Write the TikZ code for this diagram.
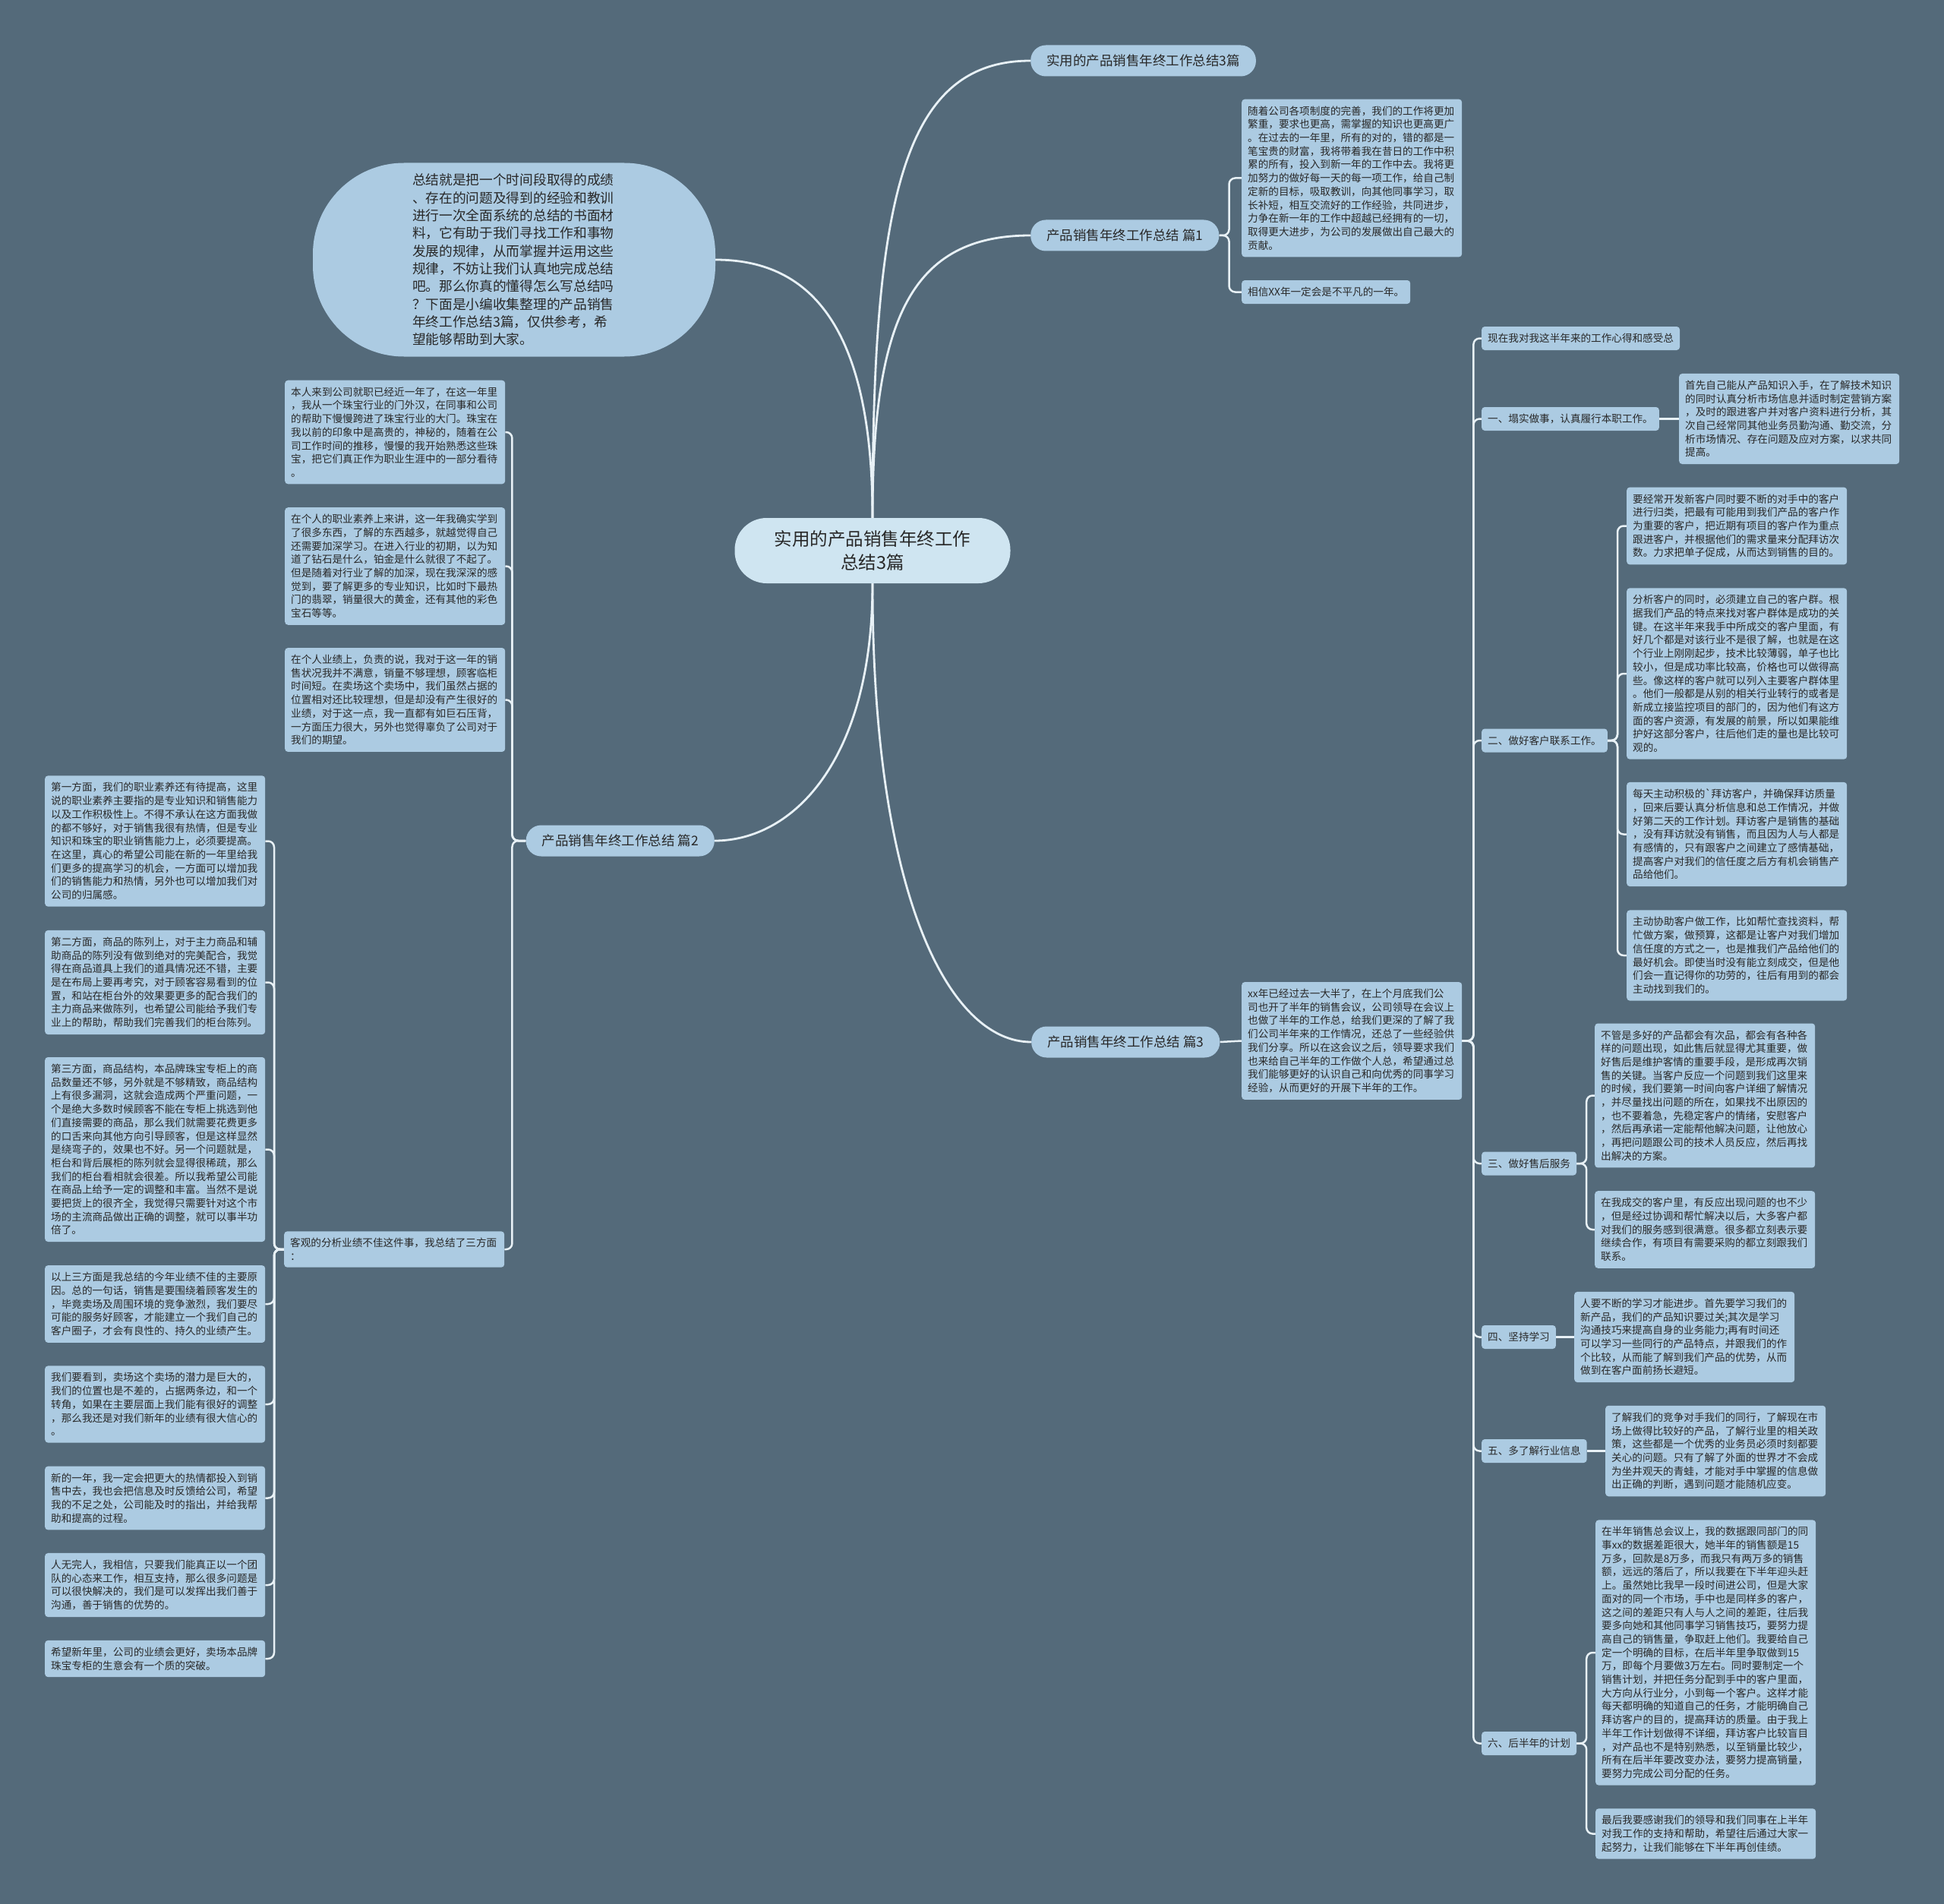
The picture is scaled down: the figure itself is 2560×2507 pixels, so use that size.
\documentclass[tikz,border=0pt]{standalone}
\usepackage{fontspec}
\setmainfont{Noto Sans CJK SC}
\definecolor{bgSlate}{RGB}{84,106,122}
\definecolor{leafBlue}{RGB}{172,203,226}
\definecolor{rootBlue}{RGB}{207,229,241}
\definecolor{linkWhite}{RGB}{232,241,246}
\definecolor{inkGray}{RGB}{40,40,40}
\pgfdeclarelayer{bg}
\pgfsetlayers{bg,main}
\tikzset{
  leaf/.style={fill=leafBlue, rounded corners=4pt, text=inkGray, align=left, text width=274pt,
               inner xsep=8pt, inner ysep=9pt, font=\fontsize{13.6}{17.7}\selectfont, anchor=west},
  topic/.style={fill=leafBlue, rounded corners=4pt, text=inkGray, inner xsep=8pt, inner ysep=0pt,
               minimum height=31pt, font=\fontsize{13.6}{17.7}\selectfont, anchor=west},
  branch/.style={fill=leafBlue, rounded corners=20pt, text=inkGray, inner xsep=21pt, inner ysep=0pt,
               minimum height=41pt, font=\fontsize{17.5}{21}\selectfont},
  rootnode/.style={fill=rootBlue, rounded corners=42pt, text=inkGray, align=center,
               minimum width=363pt, minimum height=86pt, font=\fontsize{23.5}{31.7}\selectfont},
  intronode/.style={fill=leafBlue, rounded corners=120pt, text=inkGray, align=left, text width=268pt,
               minimum width=530pt, minimum height=255pt, font=\fontsize{17.7}{23.3}\selectfont},
  link/.style={draw=linkWhite, line width=2.5pt, rounded corners=8pt},
  curve/.style={draw=linkWhite, line width=2.8pt}
}
\begin{document}
\begin{tikzpicture}[x=1pt,y=-1pt]
\begin{pgfonlayer}{bg}
\fill[bgSlate] (0,0) rectangle (2560,2507);
\end{pgfonlayer}
\useasboundingbox (0,0) rectangle (2560,2507);

% centre and main branches
\node[rootnode] (root) at (1149,725) {实用的产品销售年终工作\\总结3篇};
\node[intronode] (intro) at (677,342) {总结就是把一个时间段取得的成绩\\、存在的问题及得到的经验和教训\\进行一次全面系统的总结的书面材\\料，它有助于我们寻找工作和事物\\发展的规律，从而掌握并运用这些\\规律，不妨让我们认真地完成总结\\吧。那么你真的懂得怎么写总结吗\\？下面是小编收集整理的产品销售\\年终工作总结3篇，仅供参考，希\\望能够帮助到大家。};
\node[branch, anchor=west] (p0) at (1357,80) {实用的产品销售年终工作总结3篇};
\node[branch, anchor=west] (p1) at (1357,310) {产品销售年终工作总结 篇1};
\node[branch, anchor=east] (p2) at (941,1107) {产品销售年终工作总结 篇2};
\node[branch, anchor=west] (p3) at (1358,1372) {产品销售年终工作总结 篇3};

% 篇1
\node[leaf] (p1a) at (1635,234.5) {随着公司各项制度的完善，我们的工作将更加\\繁重，要求也更高，需掌握的知识也更高更广\\。在过去的一年里，所有的对的，错的都是一\\笔宝贵的财富，我将带着我在昔日的工作中积\\累的所有，投入到新一年的工作中去。我将更\\加努力的做好每一天的每一项工作，给自己制\\定新的目标，吸取教训，向其他同事学习，取\\长补短，相互交流好的工作经验，共同进步，\\力争在新一年的工作中超越已经拥有的一切，\\取得更大进步，为公司的发展做出自己最大的\\贡献。};
\node[topic] (p1b) at (1635,384.5) {相信XX年一定会是不平凡的一年。};

% 篇2
\node[leaf] (p2a) at (375,569) {本人来到公司就职已经近一年了，在这一年里\\，我从一个珠宝行业的门外汉，在同事和公司\\的帮助下慢慢跨进了珠宝行业的大门。珠宝在\\我以前的印象中是高贵的，神秘的，随着在公\\司工作时间的推移，慢慢的我开始熟悉这些珠\\宝，把它们真正作为职业生涯中的一部分看待\\。};
\node[leaf] (p2b) at (375,745.5) {在个人的职业素养上来讲，这一年我确实学到\\了很多东西，了解的东西越多，就越觉得自己\\还需要加深学习。在进入行业的初期，以为知\\道了钻石是什么，铂金是什么就很了不起了。\\但是随着对行业了解的加深，现在我深深的感\\觉到，要了解更多的专业知识，比如时下最热\\门的翡翠，销量很大的黄金，还有其他的彩色\\宝石等等。};
\node[leaf] (p2c) at (375,921.5) {在个人业绩上，负责的说，我对于这一年的销\\售状况我并不满意，销量不够理想，顾客临柜\\时间短。在卖场这个卖场中，我们虽然占据的\\位置相对还比较理想，但是却没有产生很好的\\业绩，对于这一点，我一直都有如巨石压背，\\一方面压力很大，另外也觉得辜负了公司对于\\我们的期望。};
\node[leaf] (p2d) at (374,1645) {客观的分析业绩不佳这件事，我总结了三方面\\：};
\node[leaf] (p2e) at (59,1107.5) {第一方面，我们的职业素养还有待提高，这里\\说的职业素养主要指的是专业知识和销售能力\\以及工作积极性上。不得不承认在这方面我做\\的都不够好，对于销售我很有热情，但是专业\\知识和珠宝的职业销售能力上，必须要提高。\\在这里，真心的希望公司能在新的一年里给我\\们更多的提高学习的机会，一方面可以增加我\\们的销售能力和热情，另外也可以增加我们对\\公司的归属感。};
\node[leaf] (p2f) at (59,1293.5) {第二方面，商品的陈列上，对于主力商品和辅\\助商品的陈列没有做到绝对的完美配合，我觉\\得在商品道具上我们的道具情况还不错，主要\\是在布局上要再考究，对于顾客容易看到的位\\置，和站在柜台外的效果要更多的配合我们的\\主力商品来做陈列，也希望公司能给予我们专\\业上的帮助，帮助我们完善我们的柜台陈列。};
\node[leaf] (p2g) at (59,1513.5) {第三方面，商品结构，本品牌珠宝专柜上的商\\品数量还不够，另外就是不够精致，商品结构\\上有很多漏洞，这就会造成两个严重问题，一\\个是绝大多数时候顾客不能在专柜上挑选到他\\们直接需要的商品，那么我们就需要花费更多\\的口舌来向其他方向引导顾客，但是这样显然\\是绕弯子的，效果也不好。另一个问题就是，\\柜台和背后展柜的陈列就会显得很稀疏，那么\\我们的柜台看相就会很差。所以我希望公司能\\在商品上给予一定的调整和丰富。当然不是说\\要把货上的很齐全，我觉得只需要针对这个市\\场的主流商品做出正确的调整，就可以事半功\\倍了。};
\node[leaf] (p2h) at (59,1717) {以上三方面是我总结的今年业绩不佳的主要原\\因。总的一句话，销售是要围绕着顾客发生的\\，毕竟卖场及周围环境的竞争激烈，我们要尽\\可能的服务好顾客，才能建立一个我们自己的\\客户圈子，才会有良性的、持久的业绩产生。};
\node[leaf] (p2i) at (59,1849) {我们要看到，卖场这个卖场的潜力是巨大的，\\我们的位置也是不差的，占据两条边，和一个\\转角，如果在主要层面上我们能有很好的调整\\，那么我还是对我们新年的业绩有很大信心的\\。};
\node[leaf] (p2j) at (59,1972.5) {新的一年，我一定会把更大的热情都投入到销\\售中去，我也会把信息及时反馈给公司，希望\\我的不足之处，公司能及时的指出，并给我帮\\助和提高的过程。};
\node[leaf] (p2k) at (59,2087) {人无完人，我相信，只要我们能真正以一个团\\队的心态来工作，相互支持，那么很多问题是\\可以很快解决的，我们是可以发挥出我们善于\\沟通，善于销售的优势的。};
\node[leaf] (p2l) at (59,2184) {希望新年里，公司的业绩会更好，卖场本品牌\\珠宝专柜的生意会有一个质的突破。};

% 篇3
\node[leaf] (p3x) at (1635,1370.5) {xx年已经过去一大半了，在上个月底我们公\\司也开了半年的销售会议，公司领导在会议上\\也做了半年的工作总，给我们更深的了解了我\\们公司半年来的工作情况，还总了一些经验供\\我们分享。所以在这会议之后，领导要求我们\\也来给自己半年的工作做个人总，希望通过总\\我们能够更好的认识自己和向优秀的同事学习\\经验，从而更好的开展下半年的工作。};
\node[topic] (q0) at (1951,445.5) {现在我对我这半年来的工作心得和感受总};
\node[topic] (q1) at (1951,551.5) {一、塌实做事，认真履行本职工作。};
\node[leaf] (q1a) at (2211,551.5) {首先自己能从产品知识入手，在了解技术知识\\的同时认真分析市场信息并适时制定营销方案\\，及时的跟进客户并对客户资料进行分析，其\\次自己经常同其他业务员勤沟通、勤交流，分\\析市场情况、存在问题及应对方案，以求共同\\提高。};
\node[topic] (q2) at (1951,975) {二、做好客户联系工作。};
\node[leaf] (q2a) at (2142,692.5) {要经常开发新客户同时要不断的对手中的客户\\进行归类，把最有可能用到我们产品的客户作\\为重要的客户，把近期有项目的客户作为重点\\跟进客户，并根据他们的需求量来分配拜访次\\数。力求把单子促成，从而达到销售的目的。};
\node[leaf] (q2b) at (2142,887) {分析客户的同时，必须建立自己的客户群。根\\据我们产品的特点来找对客户群体是成功的关\\键。在这半年来我手中所成交的客户里面，有\\好几个都是对该行业不是很了解，也就是在这\\个行业上刚刚起步，技术比较薄弱，单子也比\\较小，但是成功率比较高，价格也可以做得高\\些。像这样的客户就可以列入主要客户群体里\\。他们一般都是从别的相关行业转行的或者是\\新成立接监控项目的部门的，因为他们有这方\\面的客户资源，有发展的前景，所以如果能维\\护好这部分客户，往后他们走的量也是比较可\\观的。};
\node[leaf] (q2c) at (2142,1098.5) {每天主动积极的\textasciigrave 拜访客户，并确保拜访质量\\，回来后要认真分析信息和总工作情况，并做\\好第二天的工作计划。拜访客户是销售的基础\\，没有拜访就没有销售，而且因为人与人都是\\有感情的，只有跟客户之间建立了感情基础，\\提高客户对我们的信任度之后方有机会销售产\\品给他们。};
\node[leaf] (q2d) at (2142,1258) {主动协助客户做工作，比如帮忙查找资料，帮\\忙做方案，做预算，这都是让客户对我们增加\\信任度的方式之一，也是推我们产品给他们的\\最好机会。即使当时没有能立刻成交，但是他\\们会一直记得你的功劳的，往后有用到的都会\\主动找到我们的。};
\node[topic] (q3) at (1951,1532) {三、做好售后服务};
\node[leaf] (q3a) at (2100,1442.5) {不管是多好的产品都会有次品，都会有各种各\\样的问题出现，如此售后就显得尤其重要，做\\好售后是维护客情的重要手段，是形成再次销\\售的关键。当客户反应一个问题到我们这里来\\的时候，我们要第一时间向客户详细了解情况\\，并尽量找出问题的所在，如果找不出原因的\\，也不要着急，先稳定客户的情绪，安慰客户\\，然后再承诺一定能帮他解决问题，让他放心\\，再把问题跟公司的技术人员反应，然后再找\\出解决的方案。};
\node[leaf] (q3b) at (2100,1619) {在我成交的客户里，有反应出现问题的也不少\\，但是经过协调和帮忙解决以后，大多客户都\\对我们的服务感到很满意。很多都立刻表示要\\继续合作，有项目有需要采购的都立刻跟我们\\联系。};
\node[topic] (q4) at (1951,1760.5) {四、坚持学习};
\node[leaf] (q4a) at (2073,1760.5) {人要不断的学习才能进步。首先要学习我们的\\新产品，我们的产品知识要过关;其次是学习\\沟通技巧来提高自身的业务能力;再有时间还\\可以学习一些同行的产品特点，并跟我们的作\\个比较，从而能了解到我们产品的优势，从而\\做到在客户面前扬长避短。};
\node[topic] (q5) at (1951,1910.5) {五、多了解行业信息};
\node[leaf] (q5a) at (2114,1910.5) {了解我们的竞争对手我们的同行，了解现在市\\场上做得比较好的产品，了解行业里的相关政\\策，这些都是一个优秀的业务员必须时刻都要\\关心的问题。只有了解了外面的世界才不会成\\为坐井观天的青蛙，才能对手中掌握的信息做\\出正确的判断，遇到问题才能随机应变。};
\node[topic] (q6) at (1951,2295.5) {六、后半年的计划};
\node[leaf] (q6a) at (2101,2176) {在半年销售总会议上，我的数据跟同部门的同\\事xx的数据差距很大，她半年的销售额是15\\万多，回款是8万多，而我只有两万多的销售\\额，远远的落后了，所以我要在下半年迎头赶\\上。虽然她比我早一段时间进公司，但是大家\\面对的同一个市场，手中也是同样多的客户，\\这之间的差距只有人与人之间的差距，往后我\\要多向她和其他同事学习销售技巧，要努力提\\高自己的销售量，争取赶上他们。我要给自己\\定一个明确的目标，在后半年里争取做到15\\万，即每个月要做3万左右。同时要制定一个\\销售计划，并把任务分配到手中的客户里面，\\大方向从行业分，小到每一个客户。这样才能\\每天都明确的知道自己的任务，才能明确自己\\拜访客户的目的，提高拜访的质量。由于我上\\半年工作计划做得不详细，拜访客户比较盲目\\，对产品也不是特别熟悉，以至销量比较少，\\所有在后半年要改变办法，要努力提高销量，\\要努力完成公司分配的任务。};
\node[leaf] (q6b) at (2101,2414.5) {最后我要感谢我们的领导和我们同事在上半年\\对我工作的支持和帮助，希望往后通过大家一\\起努力，让我们能够在下半年再创佳绩。};

% connectors
\begin{pgfonlayer}{bg}
\draw[curve] (root.north) .. controls (1149,260) and (1190,80) .. (p0.west);
\draw[curve] (root.north) .. controls (1149,420) and (1200,310) .. (p1.west);
\draw[curve] (root.north) .. controls (1149,420) and (1060,342) .. (intro.east);
\draw[curve] (root.south) .. controls (1149,1000) and (1045,1107) .. (p2.east);
\draw[curve] (root.south) .. controls (1149,1180) and (1250,1372) .. (p3.west);
\foreach \c in {p1a,p1b} \draw[link] (p1.east) -- ++(13,0) |- (\c.west);
\foreach \c in {p2a,p2b,p2c,p2d} \draw[link] (p2.west) -- ++(-18,0) |- (\c.east);
\foreach \c in {p2e,p2f,p2g,p2h,p2i,p2j,p2k,p2l} \draw[link] (p2d.west) -- ++(-13,0) |- (\c.east);
\draw[link] (p3.east) -- (p3x.west);
\foreach \c in {q0,q1,q2,q3,q4,q5,q6} \draw[link] (p3x.east) -- ++(15,0) |- (\c.west);
\draw[link] (q1.east) -- (q1a.west);
\foreach \c in {q2a,q2b,q2c,q2d} \draw[link] (q2.east) -- ++(13,0) |- (\c.west);
\foreach \c in {q3a,q3b} \draw[link] (q3.east) -- ++(13,0) |- (\c.west);
\draw[link] (q4.east) -- (q4a.west);
\draw[link] (q5.east) -- (q5a.west);
\foreach \c in {q6a,q6b} \draw[link] (q6.east) -- ++(13,0) |- (\c.west);
\end{pgfonlayer}
\end{tikzpicture}
\end{document}
